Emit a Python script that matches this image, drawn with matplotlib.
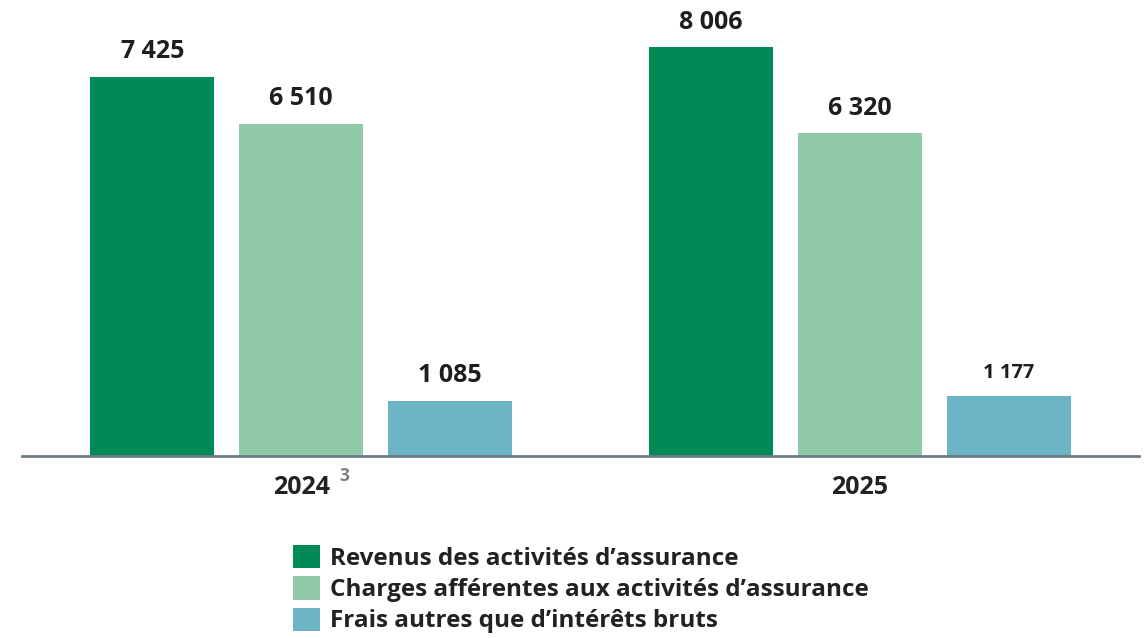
import numpy as np
import matplotlib
matplotlib.use('Agg')
import matplotlib.pyplot as plt

plt.rcParams['font.family'] = ['Open Sans', 'DejaVu Sans']

# donnees
annees = ['2024', '2025']
series = ['Revenus des activités d\u2019assurance',
          'Charges afférentes aux activités d\u2019assurance',
          'Frais autres que d\u2019intérêts bruts']
revenus = [7425, 8006]
charges = [6510, 6320]
frais = [1085, 1177]
etiquettes = [['7 425', '8 006'], ['6 510', '6 320'], ['1 085', '1 177']]
couleurs = ['#008a55', '#90caa8', '#6ab4c6']

fig = plt.figure(figsize=(11.48, 6.38), dpi=100)
ax = fig.add_axes([22 / 1148, 1 - 456 / 638, 1117 / 1148, 456 / 638])

x = np.arange(len(annees))
largeur = 0.222
pas = 0.2666
valeurs = [revenus, charges, frais]
barres = []
for i, vals in enumerate(valeurs):
    b = ax.bar(x + (i - 1) * pas, vals, largeur, color=couleurs[i], label=series[i])
    barres.append(b)
    for j, rect in enumerate(b):
        taille = 14.5 if (i == 2 and j == 1) else 18
        ax.annotate(etiquettes[i][j], (rect.get_x() + rect.get_width() / 2, rect.get_height()),
                    xytext=(0, 9), textcoords='offset points', ha='center', va='bottom',
                    fontsize=taille, fontweight='bold', color='#1e1e1e')

ax.set_xlim(-0.5, 1.5)
ax.set_ylim(0, 8929)
ax.set_yticks([])
ax.set_xticks(x)
ax.set_xticklabels(annees, fontsize=18, fontweight='bold', color='#222222')
ax.tick_params(axis='x', length=0, pad=14)
for s in ['top', 'right', 'left']:
    ax.spines[s].set_visible(False)
ax.spines['bottom'].set_color('#6f7b83')
ax.spines['bottom'].set_linewidth(2)

# note en exposant
ax.annotate('3', (x[0], 0), xytext=(31, -14.5), textcoords='offset points',
            ha='center', va='center', fontsize=12.5, fontweight='bold', color='#808080')

leg = fig.legend(handles=barres, loc='upper left', bbox_to_anchor=(293 / 1148, 1 - 545 / 638),
                 frameon=False, fontsize=17.5, handlelength=1.1, handleheight=1.1,
                 handletextpad=0.42, labelspacing=0.22, borderaxespad=0, borderpad=0)
for t in leg.get_texts():
    t.set_fontweight('bold')
    t.set_color('#222222')

fig.savefig('out.png', dpi=100)
